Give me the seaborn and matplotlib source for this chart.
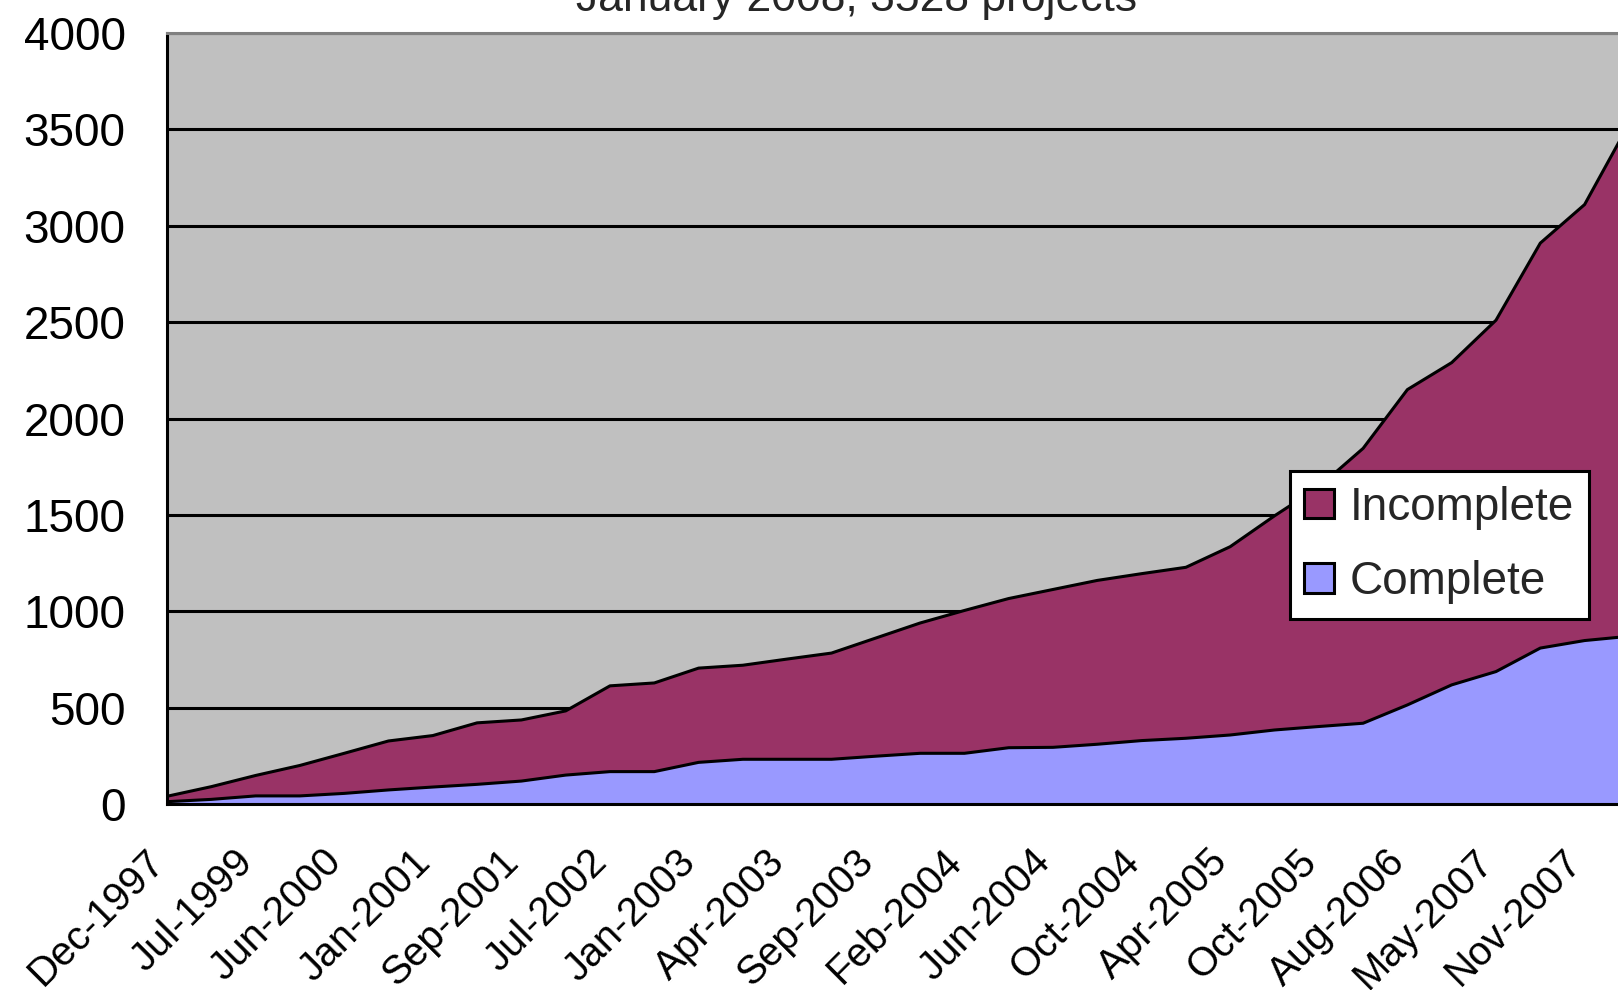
import matplotlib
matplotlib.use("Agg")
import matplotlib.pyplot as plt
import seaborn as sns
import numpy as np
import pandas as pd
from matplotlib.patches import Patch
from matplotlib.transforms import ScaledTranslation

# Survey months (only every other one is labelled on the axis)
months = ["Dec-1997", "Oct-1998", "Jul-1999", "Dec-1999", "Jun-2000", "Sep-2000",
          "Jan-2001", "May-2001", "Sep-2001", "Feb-2002", "Jul-2002", "Oct-2002",
          "Jan-2003", "Feb-2003", "Apr-2003", "Jul-2003", "Sep-2003", "Nov-2003",
          "Feb-2004", "Apr-2004", "Jun-2004", "Aug-2004", "Oct-2004", "Jan-2005",
          "Apr-2005", "Jul-2005", "Oct-2005", "Mar-2006", "Aug-2006", "Dec-2006",
          "May-2007", "Aug-2007", "Nov-2007", "Jan-2008"]

complete = [12, 24, 42, 42, 55, 73, 88, 102, 119, 150, 168, 168,
            216, 232, 232, 232, 248, 263, 263, 292, 294, 310, 329, 341,
            358, 384, 402, 419, 514, 618, 687, 809, 848, 870]

incomplete = [28, 66, 106, 158, 208, 254, 267, 319, 317, 333, 445, 460,
              489, 488, 520, 551, 613, 676, 741, 774, 819, 850, 866, 887,
              977, 1111, 1243, 1426, 1636, 1672, 1823, 2101, 2262, 2658]

series_names = ["Incomplete", "Complete"]
series_colors = {"Incomplete": "#993366", "Complete": "#9999FF"}
title_text = "January 2008, 3528 projects"
y_ticks = [0, 500, 1000, 1500, 2000, 2500, 3000, 3500, 4000]

sns.set_style("white")
plt.rcParams["font.family"] = ["Liberation Sans", "DejaVu Sans"]

LW = 2.2
W, H = 1618, 990

df = pd.DataFrame({"month": months, "Complete": complete, "Incomplete": incomplete})
df["pos"] = np.arange(len(df))
df["total"] = df["Complete"] + df["Incomplete"]

fig = plt.figure(figsize=(W / 100, H / 100), dpi=100)
ax = fig.add_axes([167 / W, 1 - 804 / H, (W - 167) / W, (804 - 33) / H])
ax.set_facecolor("#C0C0C0")

# stacked areas
ax.fill_between(df["pos"], 0, df["Complete"], facecolor=series_colors["Complete"],
                edgecolor="none", zorder=2)
ax.fill_between(df["pos"], df["Complete"], df["total"], facecolor=series_colors["Incomplete"],
                edgecolor="none", zorder=2)

# black outlines on the top of each band
sns.lineplot(data=df, x="pos", y="Complete", color="black", lw=LW, ax=ax, zorder=3)
sns.lineplot(data=df, x="pos", y="total", color="black", lw=LW, ax=ax, zorder=3)

ax.set_xlabel("")
ax.set_ylabel("")

ax.set_yticks(y_ticks)
ax.set_yticklabels([str(v) for v in y_ticks])
ax.yaxis.grid(True, color="black", lw=LW)
ax.xaxis.grid(False)
ax.set_axisbelow(True)

ax.set_xticks(df["pos"][::2])
ax.set_xticks(df["pos"][1::2], minor=True)

# the last month runs just past the right edge of the plot
ax.set_xlim(0, (W - 167) / 44.3)
ax.set_ylim(0, 4000)

ax.tick_params(axis="y", direction="out", length=10.8, width=LW, pad=19,
               labelsize=33, colors="black")
ax.tick_params(axis="x", which="both", direction="out", length=8.6, width=LW,
               pad=19, labelsize=29, colors="black")
ax.set_xticklabels(df["month"][::2], rotation=45, ha="right", va="top",
                   rotation_mode="anchor")

# shift the slanted month labels so their ends sit just left of the ticks
shift = ScaledTranslation(-22 / 100, 0, fig.dpi_scale_trans)
for lbl in ax.get_xticklabels():
    lbl.set_transform(lbl.get_transform() + shift)

for side in ("left", "bottom"):
    ax.spines[side].set_color("black")
    ax.spines[side].set_linewidth(LW)
ax.spines["top"].set_color("#808080")
ax.spines["top"].set_linewidth(LW)
ax.spines["right"].set_visible(False)

handles = [Patch(facecolor=series_colors[n], edgecolor="black", lw=LW, label=n)
           for n in series_names]
leg = ax.legend(handles=handles, loc="upper left",
                bbox_to_anchor=(1289.5 / W, 1 - 471 / H), bbox_transform=fig.transFigure,
                fontsize=33, frameon=True, fancybox=False, edgecolor="black",
                framealpha=1, borderpad=0.325, labelspacing=0.66,
                handlelength=0.655, handleheight=0.61, handletextpad=0.33,
                borderaxespad=0)
leg.get_frame().set_linewidth(LW)
leg.set_zorder(10)

fig.text(857 / W, 1 - 11 / H, title_text, ha="center", va="baseline", fontsize=32)

fig.savefig("out.png", dpi=100, facecolor="white")
